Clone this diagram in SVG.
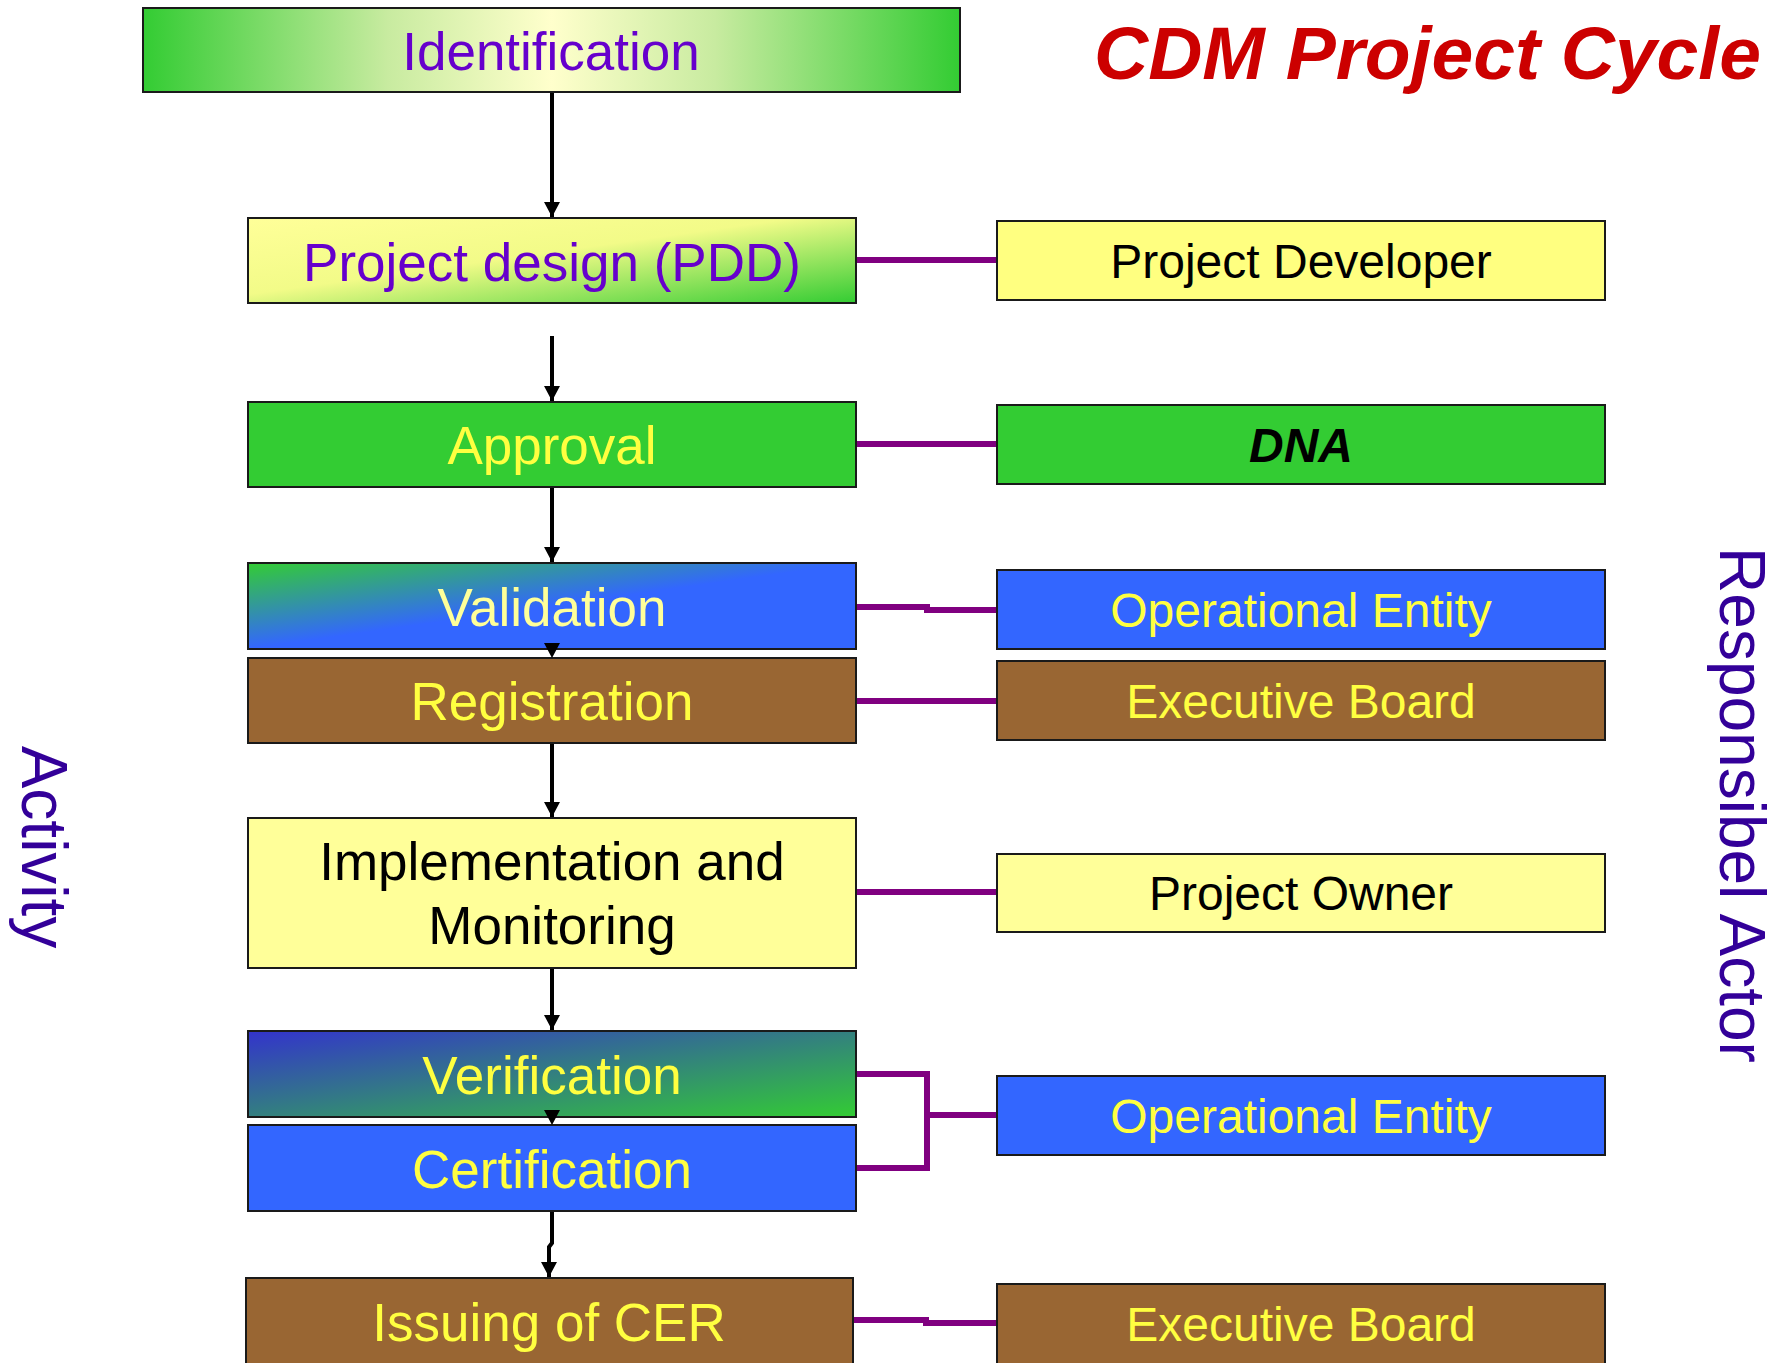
<svg xmlns="http://www.w3.org/2000/svg" width="1785" height="1363" viewBox="0 0 1785 1363">
<defs>
<linearGradient id="gIdent" x1="0" y1="0" x2="1" y2="0">
<stop offset="0" stop-color="#33CC33"/>
<stop offset="0.3" stop-color="#C8EBA0"/>
<stop offset="0.5" stop-color="#FFFFCC"/>
<stop offset="0.7" stop-color="#C8EBA0"/>
<stop offset="1" stop-color="#33CC33"/>
</linearGradient>
<linearGradient id="gPdd" x1="0" y1="0" x2="1" y2="1">
<stop offset="0" stop-color="#FFFF99"/>
<stop offset="0.45" stop-color="#F2FB88"/>
<stop offset="1" stop-color="#33CC33"/>
</linearGradient>
<linearGradient id="gVal" x1="0" y1="0" x2="1" y2="1">
<stop offset="0" stop-color="#33CC33"/>
<stop offset="0.5" stop-color="#3366FF"/>
<stop offset="1" stop-color="#3366FF"/>
</linearGradient>
<linearGradient id="gVer" x1="0" y1="0" x2="1" y2="1">
<stop offset="0" stop-color="#3333CC"/>
<stop offset="1" stop-color="#33CC33"/>
</linearGradient>
<marker id="arr" markerUnits="userSpaceOnUse" markerWidth="16" markerHeight="16" viewBox="0 0 16 16" refX="15" refY="8" orient="auto">
<path d="M0,0 L15,8 L0,16 Z" fill="#000"/>
</marker>
</defs>
<style>
.box{stroke:#1a1a1a;stroke-width:2}
.t{font-family:"Liberation Sans",Arial,sans-serif;text-anchor:middle}
.l{font-size:53px}
.r{font-size:48px}
.ylw{fill:#FFFF40}
.pur{fill:#6600CC}
.blk{fill:#000}
.arrow{stroke:#000;stroke-width:4;fill:none}
.link{stroke:#800080;stroke-width:6;fill:none}
.side{font-family:"Liberation Sans",Arial,sans-serif;font-size:64px;fill:#330099;text-anchor:middle}
</style>

<text x="1094" y="79" style="font-family:'Liberation Sans',Arial,sans-serif;font-size:75px;font-weight:bold;font-style:italic;fill:#CC0000">CDM Project Cycle</text>

<text class="side" transform="translate(22,847) rotate(90)">Activity</text>
<text class="side" transform="translate(1720,805) rotate(90)">Responsibel Actor</text>

<g id="connectors">
<line class="arrow" x1="552" y1="92" x2="552" y2="217" marker-end="url(#arr)"/>
<line class="arrow" x1="552" y1="336" x2="552" y2="401" marker-end="url(#arr)"/>
<line class="arrow" x1="552" y1="487" x2="552" y2="562" marker-end="url(#arr)"/>
<line class="arrow" x1="552" y1="743" x2="552" y2="817" marker-end="url(#arr)"/>
<line class="arrow" x1="552" y1="968" x2="552" y2="1030" marker-end="url(#arr)"/>
<path class="arrow" d="M552,1211 L552,1243 L549,1247 L549,1277" marker-end="url(#arr)"/>
<line class="link" x1="856" y1="260" x2="997" y2="260"/>
<line class="link" x1="856" y1="444" x2="997" y2="444"/>
<path class="link" d="M856,607 L927,607 L927,610 L997,610"/>
<line class="link" x1="856" y1="701" x2="997" y2="701"/>
<line class="link" x1="856" y1="892" x2="997" y2="892"/>
<path class="link" d="M856,1074 L927,1074 L927,1168 L856,1168"/>
<line class="link" x1="927" y1="1115" x2="997" y2="1115"/>
<path class="link" d="M853,1320 L926,1320 L926,1323 L997,1323"/>
</g>

<g id="identification">
<rect class="box" x="143" y="8" width="817" height="84" fill="url(#gIdent)"/>
<text class="t l pur" x="551" y="70">Identification</text>
</g>
<g id="project-design">
<rect class="box" x="248" y="218" width="608" height="85" fill="url(#gPdd)"/>
<text class="t l pur" x="552" y="281">Project design (PDD)</text>
</g>
<g id="approval">
<rect class="box" x="248" y="402" width="608" height="85" fill="#33CC33"/>
<text class="t l ylw" x="552" y="464">Approval</text>
</g>
<g id="validation">
<rect class="box" x="248" y="563" width="608" height="86" fill="url(#gVal)"/>
<text class="t l" x="552" y="626" fill="#FFFF99">Validation</text>
</g>
<g id="registration">
<rect class="box" x="248" y="658" width="608" height="85" fill="#996633"/>
<text class="t l ylw" x="552" y="720">Registration</text>
</g>
<g id="implementation">
<rect class="box" x="248" y="818" width="608" height="150" fill="#FFFF99"/>
<text class="t l blk" x="552" y="880">Implementation and</text>
<text class="t l blk" x="552" y="944">Monitoring</text>
</g>
<g id="verification">
<rect class="box" x="248" y="1031" width="608" height="86" fill="url(#gVer)"/>
<text class="t l ylw" x="552" y="1094">Verification</text>
</g>
<g id="certification">
<rect class="box" x="248" y="1125" width="608" height="86" fill="#3366FF"/>
<text class="t l ylw" x="552" y="1188">Certification</text>
</g>
<g id="issuing">
<rect class="box" x="246" y="1278" width="607" height="95" fill="#996633"/>
<text class="t l ylw" x="549" y="1341">Issuing of CER</text>
</g>

<g id="stack-arrows">
<path d="M544,643 L560,643 L552,658 Z" fill="#000"/>
<path d="M544,1110 L560,1110 L552,1125 Z" fill="#000"/>
</g>

<g id="project-developer">
<rect class="box" x="997" y="221" width="608" height="79" fill="#FFFF80"/>
<text class="t r blk" x="1301" y="278">Project Developer</text>
</g>
<g id="dna">
<rect class="box" x="997" y="405" width="608" height="79" fill="#33CC33"/>
<text class="t r blk" x="1301" y="462" style="font-weight:bold;font-style:italic">DNA</text>
</g>
<g id="operational-entity-1">
<rect class="box" x="997" y="570" width="608" height="79" fill="#3366FF"/>
<text class="t r ylw" x="1301" y="627">Operational Entity</text>
</g>
<g id="executive-board-1">
<rect class="box" x="997" y="661" width="608" height="79" fill="#996633"/>
<text class="t r ylw" x="1301" y="718">Executive Board</text>
</g>
<g id="project-owner">
<rect class="box" x="997" y="854" width="608" height="78" fill="#FFFF99"/>
<text class="t r blk" x="1301" y="910">Project Owner</text>
</g>
<g id="operational-entity-2">
<rect class="box" x="997" y="1076" width="608" height="79" fill="#3366FF"/>
<text class="t r ylw" x="1301" y="1133">Operational Entity</text>
</g>
<g id="executive-board-2">
<rect class="box" x="997" y="1284" width="608" height="89" fill="#996633"/>
<text class="t r ylw" x="1301" y="1341">Executive Board</text>
</g>
</svg>
